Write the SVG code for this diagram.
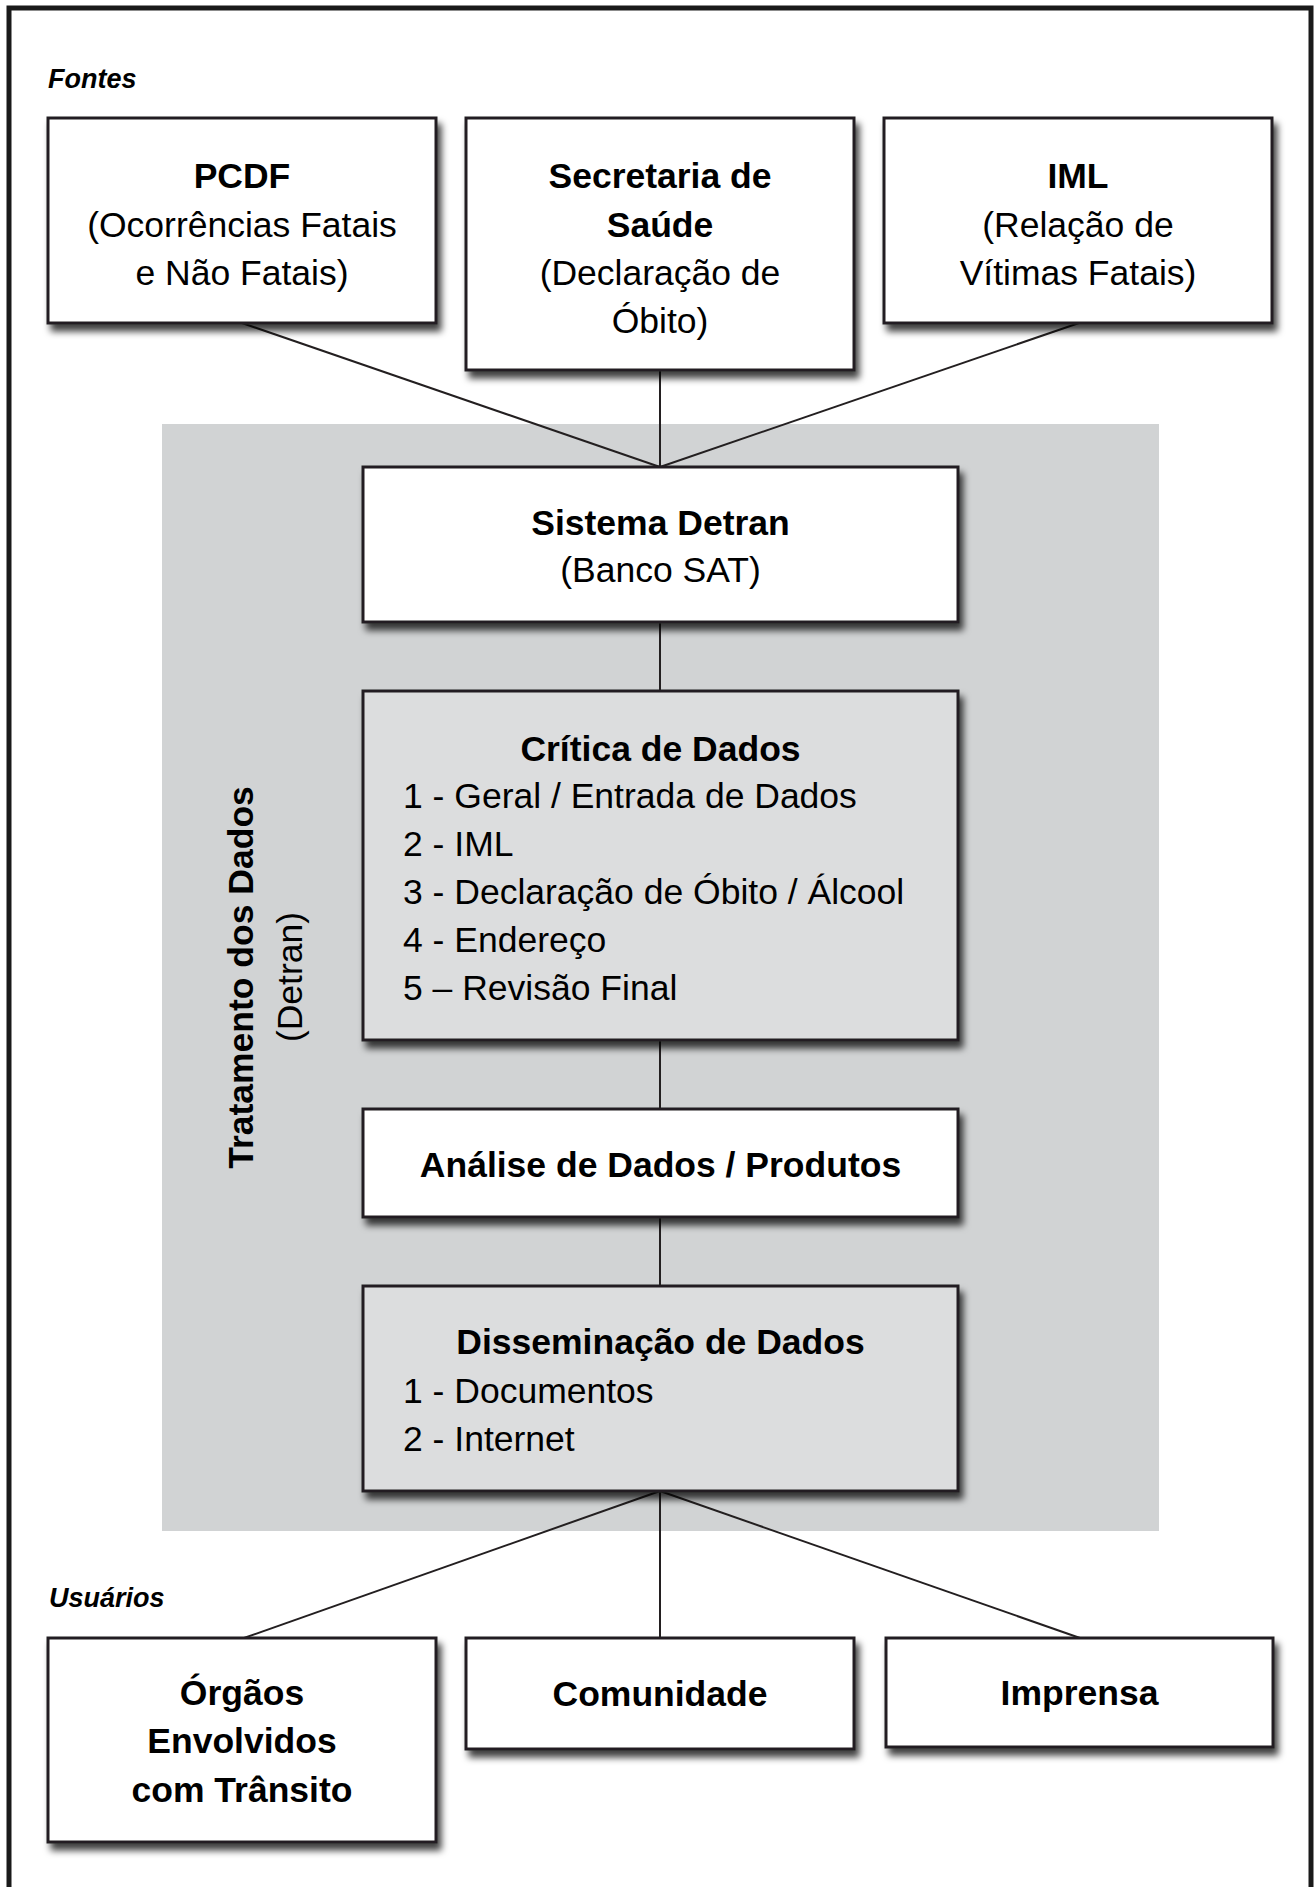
<svg xmlns="http://www.w3.org/2000/svg" width="1316" height="1887" viewBox="0 0 1316 1887">
  <defs>
    <filter id="shadow" x="-10%" y="-10%" width="130%" height="140%">
      <feDropShadow dx="4" dy="7" stdDeviation="3.5" flood-color="#000" flood-opacity="0.75"/>
    </filter>
    <style>
      .box { fill: #ffffff; stroke: #231f20; stroke-width: 3; filter: url(#shadow); }
      .gbox { fill: #dcddde; stroke: #231f20; stroke-width: 3; filter: url(#shadow); }
      .t { font-family: "Liberation Sans", Arial, sans-serif; font-size: 35.5px; fill: #000; }
      .b { font-weight: bold; }
      .c { text-anchor: middle; }
      .sec { font-family: "Liberation Sans", Arial, sans-serif; font-size: 27px; font-weight: bold; font-style: italic; fill: #000; }
      .conn { stroke: #231f20; stroke-width: 2; fill: none; }
    </style>
  </defs>

  <rect width="1316" height="1887" fill="#ffffff"/>
  <rect id="frame" x="9" y="8" width="1302" height="1900" fill="none" stroke="#1a1a1a" stroke-width="5"/>

  <g id="panel-tratamento">
    <rect x="162" y="424" width="997" height="1107" fill="#d1d3d4"/>
    <text class="t b c" font-size="36.7px" transform="translate(253,977.5) rotate(-90)">Tratamento dos Dados</text>
    <text class="t c" transform="translate(302,977) rotate(-90)">(Detran)</text>
  </g>

  <text id="label-fontes" class="sec" x="48" y="88">Fontes</text>
  <text id="label-usuarios" class="sec" x="49" y="1607">Usuários</text>

  <g id="connectors">
    <line class="conn" x1="242" y1="323" x2="660" y2="467"/>
    <line class="conn" x1="660" y1="370" x2="660" y2="467"/>
    <line class="conn" x1="1079" y1="323" x2="660" y2="467"/>
    <line class="conn" x1="660" y1="622" x2="660" y2="691"/>
    <line class="conn" x1="660" y1="1040" x2="660" y2="1109"/>
    <line class="conn" x1="660" y1="1217" x2="660" y2="1286"/>
    <line class="conn" x1="660" y1="1491" x2="244" y2="1638"/>
    <line class="conn" x1="660" y1="1491" x2="660" y2="1638"/>
    <line class="conn" x1="660" y1="1491" x2="1080" y2="1638"/>
  </g>

  <g id="node-pcdf">
    <rect class="box" x="48" y="118" width="388" height="205"/>
    <text class="t b c" x="242" y="188">PCDF</text>
    <text class="t c" x="242" y="237">(Ocorrências Fatais</text>
    <text class="t c" x="242" y="285">e Não Fatais)</text>
  </g>

  <g id="node-secretaria">
    <rect class="box" x="466" y="118" width="388" height="252"/>
    <text class="t b c" x="660" y="188">Secretaria de</text>
    <text class="t b c" x="660" y="237">Saúde</text>
    <text class="t c" x="660" y="285">(Declaração de</text>
    <text class="t c" x="660" y="333">Óbito)</text>
  </g>

  <g id="node-iml">
    <rect class="box" x="884" y="118" width="388" height="205"/>
    <text class="t b c" x="1078" y="188">IML</text>
    <text class="t c" x="1078" y="237">(Relação de</text>
    <text class="t c" x="1078" y="285">Vítimas Fatais)</text>
  </g>

  <g id="node-sistema">
    <rect class="box" x="363" y="467" width="595" height="155"/>
    <text class="t b c" x="660.5" y="535">Sistema Detran</text>
    <text class="t c" x="660.5" y="582">(Banco SAT)</text>
  </g>

  <g id="node-critica">
    <rect class="gbox" x="363" y="691" width="595" height="349"/>
    <text class="t b c" x="660.5" y="761">Crítica de Dados</text>
    <text class="t" x="403" y="808">1 - Geral / Entrada de Dados</text>
    <text class="t" x="403" y="856">2 - IML</text>
    <text class="t" x="403" y="904">3 - Declaração de Óbito / Álcool</text>
    <text class="t" x="403" y="952">4 - Endereço</text>
    <text class="t" x="403" y="1000">5 – Revisão Final</text>
  </g>

  <g id="node-analise">
    <rect class="box" x="363" y="1109" width="595" height="108"/>
    <text class="t b c" x="660.5" y="1177">Análise de Dados / Produtos</text>
  </g>

  <g id="node-disseminacao">
    <rect class="gbox" x="363" y="1286" width="595" height="205"/>
    <text class="t b c" x="660.5" y="1354">Disseminação de Dados</text>
    <text class="t" x="403" y="1403">1 - Documentos</text>
    <text class="t" x="403" y="1451">2 - Internet</text>
  </g>

  <g id="node-orgaos">
    <rect class="box" x="48" y="1638" width="388" height="204"/>
    <text class="t b c" x="242" y="1705">Órgãos</text>
    <text class="t b c" x="242" y="1753">Envolvidos</text>
    <text class="t b c" x="242" y="1802">com Trânsito</text>
  </g>

  <g id="node-comunidade">
    <rect class="box" x="466" y="1638" width="388" height="111"/>
    <text class="t b c" x="660" y="1706">Comunidade</text>
  </g>

  <g id="node-imprensa">
    <rect class="box" x="886" y="1638" width="387" height="109"/>
    <text class="t b c" x="1079.5" y="1705">Imprensa</text>
  </g>
</svg>
